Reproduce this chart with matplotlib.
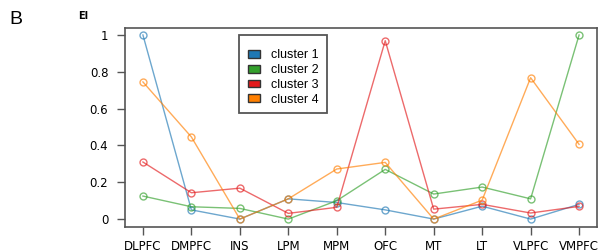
import matplotlib
matplotlib.use("Agg")
import matplotlib.pyplot as plt
from matplotlib.patches import Patch, Rectangle

regions = ["DLPFC", "DMPFC", "INS", "LPM", "MPM", "OFC", "MT", "LT", "VLPFC", "VMPFC"]
cluster1 = [1.00, 0.05, 0.00, 0.11, 0.09, 0.05, 0.00, 0.07, 0.00, 0.08]
cluster2 = [0.125, 0.067, 0.058, 0.00, 0.10, 0.27, 0.136, 0.174, 0.11, 1.00]
cluster3 = [0.31, 0.143, 0.168, 0.031, 0.064, 0.969, 0.054, 0.08, 0.033, 0.069]
cluster4 = [0.745, 0.446, 0.00, 0.11, 0.272, 0.308, 0.00, 0.103, 0.768, 0.406]
series_names = ["cluster 1", "cluster 2", "cluster 3", "cluster 4"]
yticks = [0, 0.2, 0.4, 0.6, 0.8, 1]
ytick_labels = ["0", "0.2", "0.4", "0.6", "0.8", "1"]

colors = ["#1f78b4", "#33a02c", "#e31a1c", "#ff7f00"]

W, H = 608, 252
fig = plt.figure(figsize=(W/100, H/100), dpi=100)
ax = fig.add_axes([125/W, 25/H, 472/W, 199/H])

x = list(range(1, len(regions) + 1))
for vals, c in zip([cluster1, cluster2, cluster3, cluster4], colors):
    ax.plot(x, vals, color=c, alpha=0.65, lw=1.0, marker="o", markersize=5,
            markerfacecolor="none", markeredgecolor=c, markeredgewidth=1.0)

ax.set_xlim(0.63, 10.37)
ax.set_ylim(-0.043, 1.038)
ax.set_xticks(x)
ax.set_xticklabels(regions, fontsize=8.5)
ax.set_yticks(yticks)
ax.set_yticklabels(ytick_labels, fontsize=8.5)
ax.tick_params(axis="both", direction="out", length=5.5, width=1.0, color="#555555")
ax.tick_params(axis="x", pad=3.5)
ax.tick_params(axis="y", pad=6.5)
for s in ax.spines.values():
    s.set_color("#555555")
    s.set_linewidth(1.2)

# legend frame drawn separately (figure pixel box)
frame = Rectangle((239/W, 1 - 113/H), 88/W, 78/H, transform=fig.transFigure,
                  facecolor="white", edgecolor="#555555", linewidth=1.3, zorder=5)
fig.add_artist(frame)

handles = [Patch(facecolor=c, edgecolor="#333333", linewidth=1.0) for c in colors]
leg = ax.legend(handles, series_names, loc="upper left", bbox_to_anchor=(114/472, 1 - 12/199),
                prop={"family": "Liberation Sans", "size": 9}, frameon=False,
                handlelength=0.95, handleheight=0.6, handletextpad=0.85, labelspacing=0.22,
                borderpad=0.75, borderaxespad=0)
leg.set_zorder(6)
fig.add_artist(leg)

fig.text(9/W, 1 - 20/H, "B", fontsize=14, va="center", ha="left", family="Liberation Sans")
fig.text(78/W, 1 - 16/H, "EI", fontsize=7, va="center", ha="left", fontweight="bold")

fig.savefig("out.png", dpi=100)
